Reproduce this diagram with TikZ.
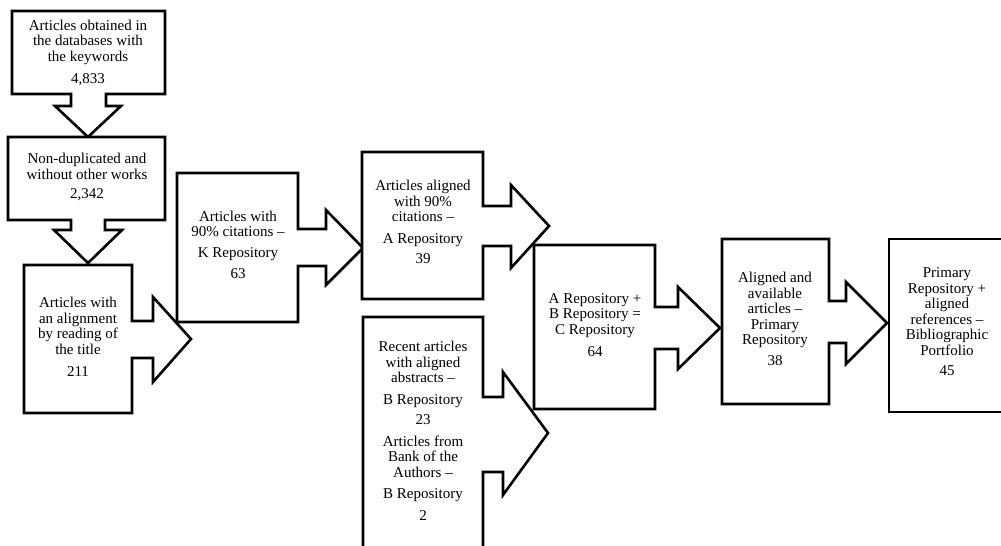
\documentclass[tikz,border=0pt]{standalone}
\usepackage{fontspec}
\setmainfont{Liberation Serif}
\begin{document}
\begin{tikzpicture}[x=1pt,y=-1pt,
  flow/.style={draw=black,line width=2.6pt,line join=miter,fill=white},
  lbl/.style={align=center,inner sep=0pt,font=\fontsize{15}{15.5}\selectfont}]
\clip (0,0) rectangle (1001,546);
\fill[white] (0,0) rectangle (1001,546);
% box outlines with block arrows
\draw[flow] (12,11) -- (165,11) -- (165,94) -- (106,94) -- (106,106) -- (121,106) -- (88,137) -- (55,106) -- (71,106) -- (71,94) -- (12,94) -- cycle;
\draw[flow] (8,137) -- (165,137) -- (165,220) -- (105,220) -- (105,230) -- (122,230) -- (88,263) -- (54,230) -- (71,230) -- (71,220) -- (8,220) -- cycle;
\draw[flow] (24,265) -- (132,265) -- (132,321) -- (153,321) -- (153,297) -- (191,339) -- (153,382) -- (153,358) -- (132,358) -- (132,413) -- (24,413) -- cycle;
\draw[flow] (177,173) -- (298,173) -- (298,229) -- (326,229) -- (326,210) -- (363,248) -- (326,285) -- (326,266) -- (298,266) -- (298,322) -- (177,322) -- cycle;
\draw[flow] (362,152) -- (483,152) -- (483,206) -- (511,206) -- (511,185) -- (549,226) -- (511,268) -- (511,246) -- (483,246) -- (483,299) -- (362,299) -- cycle;
\draw[flow] (363,317) -- (483,317) -- (483,397) -- (503,397) -- (503,372) -- (548,433) -- (503,495) -- (503,472) -- (483,472) -- (483,570) -- (363,570) -- cycle;
\draw[flow] (534,245) -- (655,245) -- (655,307) -- (678,307) -- (678,287) -- (720,328) -- (678,369) -- (678,349) -- (655,349) -- (655,409) -- (534,409) -- cycle;
\draw[flow] (722,239) -- (829,239) -- (829,301) -- (846,301) -- (846,282) -- (887,323) -- (846,364) -- (846,343) -- (829,343) -- (829,404) -- (722,404) -- cycle;
\draw[flow] (889,239) -- (1010,239) -- (1010,412) -- (889,412) -- cycle;
% labels
\node[lbl] (t1) at (88,53) {Articles obtained in\\the databases with\\the keywords\\[7pt]4,833};
\node[lbl] (t2) at (87,177) {Non-duplicated and\\without other works\\[4pt]2,342};
\node[lbl] (t3) at (78,337) {Articles with\\an alignment\\by reading of\\the title\\[7pt]211};
\node[lbl] (t4) at (238,245) {Articles with\\90\% citations \textendash\\[5pt]K Repository\\[6pt]63};
\node[lbl] (t5) at (423,222) {Articles aligned\\with 90\%\\citations \textendash\\[6pt]A Repository\\[5pt]39};
\node[lbl] (t6) at (423,431) {Recent articles\\with aligned\\abstracts \textendash\\[6pt]B Repository\\[5pt]23\\[6pt]Articles from\\Bank of the\\Authors \textendash\\[6pt]B Repository\\[6pt]2};
\node[lbl] (t7) at (595,325) {A Repository +\\B Repository =\\C Repository\\[7pt]64};
\node[lbl] (t8) at (775,319) {Aligned and\\available\\articles \textendash\\Primary\\Repository\\[5pt]38};
\node[lbl] (t9) at (947,322) {Primary\\Repository +\\aligned\\references \textendash\\Bibliographic\\Portfolio\\[5pt]45};
\end{tikzpicture}
\end{document}
